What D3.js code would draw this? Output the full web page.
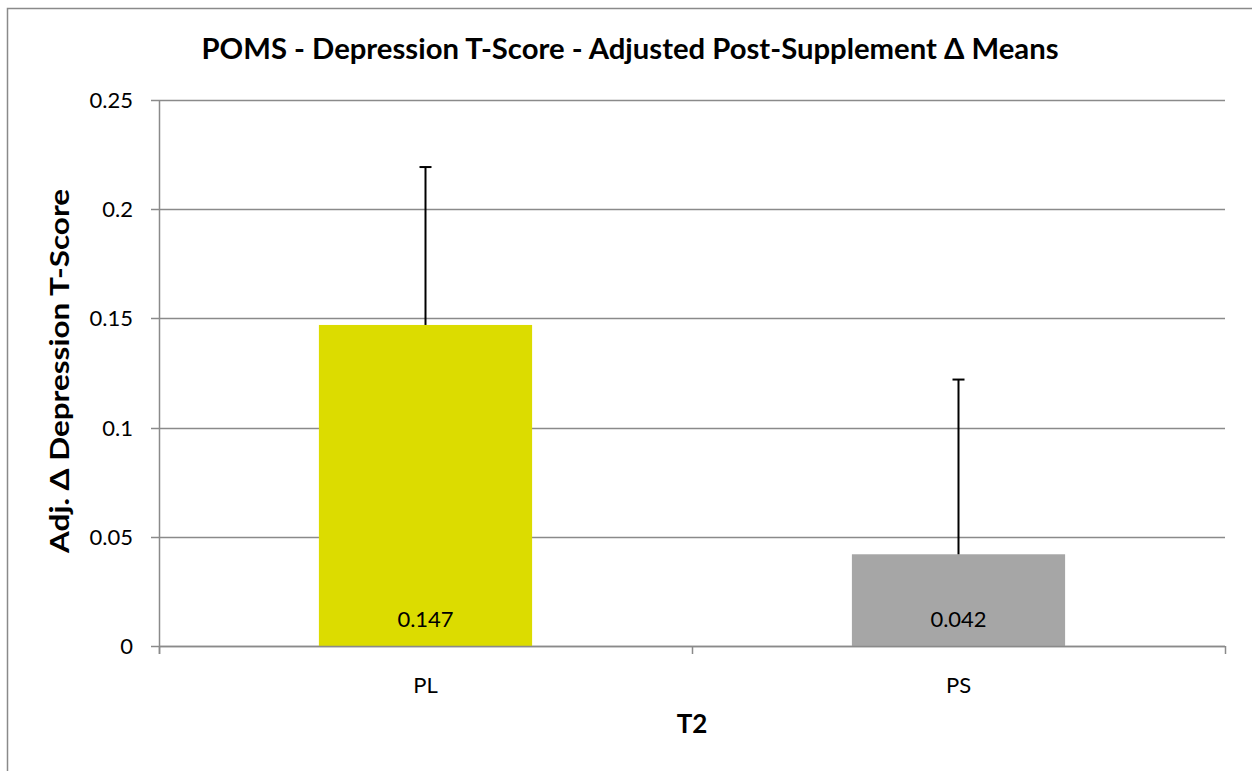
<!DOCTYPE html>
<html>
<head>
<meta charset="utf-8">
<script src="https://cdn.jsdelivr.net/npm/d3@7"></script>
<style>
  body { margin: 0; background: #fff; }
  svg { display: block; font-family: Lato, "Open Sans", sans-serif; }
</style>
</head>
<body>
<svg width="1252" height="771"></svg>
<script>
const categories = ["PL", "PS"];
const means = [0.147, 0.042];
const errorTops = [0.2193, 0.122];
const valueLabels = ["0.147", "0.042"];
const yTicks = [0, 0.05, 0.1, 0.15, 0.2, 0.25];
const barColors = ["#dcdc00", "#a6a6a6"];

const svg = d3.select("svg");
const width = +svg.attr("width");
const height = +svg.attr("height");
const margin = { top: 100, left: 159, right: 27, bottom: 125 };
const gridColor = "#8a8a8a";

// chart area frame
svg.append("rect")
  .attr("x", 7.5)
  .attr("y", 8.5)
  .attr("width", width + 20)
  .attr("height", height + 20)
  .attr("fill", "none")
  .attr("stroke", gridColor)
  .attr("stroke-width", 1.5);

const innerW = width - margin.left - margin.right;
const innerH = height - margin.top - margin.bottom;

const xScale = d3.scaleBand()
  .domain(categories)
  .range([0, innerW])
  .paddingInner(0.6)
  .paddingOuter(0.3);

const yScale = d3.scaleLinear()
  .domain([0, 0.25])
  .range([innerH, 0]);

const g = svg.append("g")
  .attr("transform", `translate(${margin.left},${margin.top})`);

// gridlines with small left ticks
g.append("g")
  .selectAll("line")
  .data(yTicks)
  .enter()
  .append("line")
  .attr("x1", -8)
  .attr("x2", innerW)
  .attr("y1", d => Math.round(yScale(d)) + 0.5)
  .attr("y2", d => Math.round(yScale(d)) + 0.5)
  .attr("stroke", gridColor)
  .attr("stroke-width", 1.5);

// y tick labels
g.append("g")
  .selectAll("text")
  .data(yTicks)
  .enter()
  .append("text")
  .attr("x", -26)
  .attr("y", d => yScale(d))
  .attr("dy", "0.36em")
  .attr("text-anchor", "end")
  .attr("font-size", 22)
  .attr("fill", "#000")
  .text(d => d === 0 ? "0" : d3.format("")(+d.toFixed(2)));

// bars
g.selectAll("rect.bar")
  .data(categories)
  .enter()
  .append("rect")
  .attr("class", "bar")
  .attr("x", d => xScale(d))
  .attr("y", (d, i) => yScale(means[i]))
  .attr("width", xScale.bandwidth())
  .attr("height", (d, i) => innerH - yScale(means[i]))
  .attr("fill", (d, i) => barColors[i]);

// y axis line
g.append("line")
  .attr("x1", 0.5).attr("x2", 0.5)
  .attr("y1", 0).attr("y2", innerH + 8)
  .attr("stroke", gridColor)
  .attr("stroke-width", 1.5);

// x axis line and category ticks
g.append("line")
  .attr("x1", 0).attr("x2", innerW)
  .attr("y1", innerH + 0.5).attr("y2", innerH + 0.5)
  .attr("stroke", gridColor)
  .attr("stroke-width", 1.5);

const boundaries = [0].concat(categories.map(c => xScale(c) + xScale.bandwidth() + xScale.step() * xScale.paddingInner() / 2));
boundaries[boundaries.length - 1] = innerW;
g.append("g")
  .selectAll("line")
  .data(boundaries)
  .enter()
  .append("line")
  .attr("x1", d => d + 0.5)
  .attr("x2", d => d + 0.5)
  .attr("y1", innerH)
  .attr("y2", innerH + 8)
  .attr("stroke", gridColor)
  .attr("stroke-width", 1.5);

// error bars
const errs = g.append("g").selectAll("g")
  .data(categories)
  .enter()
  .append("g")
  .attr("transform", d => `translate(${xScale(d) + xScale.bandwidth() / 2},0)`);

errs.append("line")
  .attr("x1", 0).attr("x2", 0)
  .attr("y1", (d, i) => yScale(means[i]))
  .attr("y2", (d, i) => yScale(errorTops[i]))
  .attr("stroke", "#000")
  .attr("stroke-width", 2);

errs.append("line")
  .attr("x1", -6).attr("x2", 6)
  .attr("y1", (d, i) => yScale(errorTops[i]))
  .attr("y2", (d, i) => yScale(errorTops[i]))
  .attr("stroke", "#000")
  .attr("stroke-width", 2);

// value labels inside bars
g.append("g")
  .selectAll("text")
  .data(categories)
  .enter()
  .append("text")
  .attr("x", d => xScale(d) + xScale.bandwidth() / 2)
  .attr("y", innerH - 19)
  .attr("text-anchor", "middle")
  .attr("font-size", 22)
  .attr("fill", "#000")
  .text((d, i) => valueLabels[i]);

// category labels
g.append("g")
  .selectAll("text")
  .data(categories)
  .enter()
  .append("text")
  .attr("x", d => xScale(d) + xScale.bandwidth() / 2)
  .attr("y", innerH + 47)
  .attr("text-anchor", "middle")
  .attr("font-size", 22)
  .attr("fill", "#000")
  .text(d => d);

// x axis title
svg.append("text")
  .attr("x", margin.left + innerW / 2)
  .attr("y", 733)
  .attr("text-anchor", "middle")
  .attr("font-size", 26)
  .attr("font-weight", "bold")
  .text("T2");

// y axis title
svg.append("text")
  .attr("transform", `translate(69,${margin.top + innerH / 2 - 2}) rotate(-90)`)
  .attr("text-anchor", "middle")
  .attr("font-size", 26)
  .attr("font-weight", "bold")
  .attr("textLength", 364)
  .attr("lengthAdjust", "spacingAndGlyphs")
  .text("Adj. \u0394 Depression T-Score");

// chart title
svg.append("text")
  .attr("x", 630)
  .attr("y", 59)
  .attr("text-anchor", "middle")
  .attr("font-size", 28)
  .attr("font-weight", "bold")
  .attr("textLength", 857)
  .attr("lengthAdjust", "spacingAndGlyphs")
  .text("POMS - Depression T-Score - Adjusted Post-Supplement \u0394 Means");
</script>
</body>
</html>
